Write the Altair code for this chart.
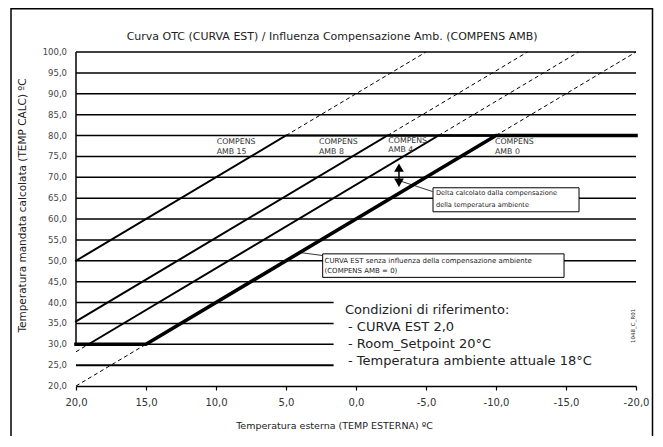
import altair as alt
import pandas as pd

# ---------------- data ----------------
title_text = "Curva OTC (CURVA EST) / Influenza Compensazione Amb. (COMPENS AMB)"
title_x = 1.71
title_y = 103.7

# y tick labels (flow temperature, °C)
y_ticks = [20, 25, 30, 35, 40, 45, 50, 55, 60, 65, 70, 75, 80, 85, 90, 95, 100]
x_ticks = [20, 15, 10, 5, 0, -5, -10, -15, -20]

# horizontal reference lines (flow temperature, °C)
grid_full = [45, 50, 55, 60, 65, 70, 75, 80, 85, 90, 95, 100]
grid_short = [25, 30, 35, 40]
grid_short_end = 1.6          # outdoor temp where the short lines stop
grid_short_width = [2.0, 1.5, 1.5, 1.5]

# solid curves (outdoor temp -> flow temp)
curve_names = ["AMB 15", "AMB 8", "AMB 4", "AMB 0"]
curve_x = [[20, 5, -20], [20, -2.25, -20], [19.1, -5.9, -20], [20, 15, -10, -20]]
curve_y = [[50, 80, 80], [35.5, 80, 80], [30, 80, 80], [30, 30, 80, 80]]
curve_w = [2.0, 2.0, 2.0, 3.6]

# dashed continuations
dash_names = ["AMB 0 low", "AMB 4 low", "AMB 15 high", "AMB 8 high", "AMB 4 high", "AMB 0 high"]
dash_x = [[20, 15], [20, 19.1], [5, -5], [-2.25, -12.25], [-5.9, -15.9], [-10, -20]]
dash_y = [[20, 30], [28.2, 30], [80, 100], [80, 100], [80, 100], [80, 100]]

# curve labels
lab_text = ["COMPENS", "AMB 15", "COMPENS", "AMB 8", "COMPENS", "AMB 4", "COMPENS", "AMB 0"]
lab_x = [9.95, 9.95, 2.64, 2.64, -2.31, -2.31, -9.93, -9.93]
lab_y = [78.44, 76.12, 78.44, 76.12, 78.7, 76.47, 78.44, 76.12]

# callout boxes
box_x = [-5.5, 2.38]
box_x2 = [-15.93, -14.86]
box_y = [67.48, 51.65]
box_y2 = [61.73, 46.02]
box_text = ["Delta calcolato dalla compensazione", "della temperatura ambiente",
            "CURVA EST senza influenza della compensazione ambiente", "(COMPENS AMB = 0)"]
box_text_x = [-5.71, -5.71, 2.25, 2.25]
box_text_y = [66.21, 63.41, 49.98, 47.58]
box_text_size = [6.6, 6.6, 7.0, 7.0]

# leader lines
lead_x = [-3.26, 4.0]
lead_x2 = [-5.46, 2.38]
lead_y = [68.99, 51.97]
lead_y2 = [66.59, 51.25]

# double arrow (delta)
arrow_x = -3.07
arrow_y_top = 72.3
arrow_y_bot = 68.7

# reference conditions
cond_text = ["Condizioni di riferimento:", "- CURVA EST 2,0", "- Room_Setpoint 20°C",
             "- Temperatura ambiente attuale 18°C"]
cond_x = [0.79, 0.57, 0.57, 0.57]
cond_y = [38.3, 34.15, 30.07, 25.99]

code_text = "1048_C_R01"
code_x = -19.79
code_y = 34.4

# ---------------- build tables ----------------
def fmt_num(v):
    s = f"{abs(v):.1f}".replace(".", ",")
    return ("-" if v < 0 else "") + s

grid_df = pd.DataFrame(
    {"y": grid_full + grid_short,
     "x": [20] * (len(grid_full) + len(grid_short)),
     "x2": [-20] * len(grid_full) + [grid_short_end] * len(grid_short),
     "w": [1.5] * len(grid_full) + grid_short_width})

rows = []
for n, xs, ys, w in zip(curve_names, curve_x, curve_y, curve_w):
    for i, (a, b) in enumerate(zip(xs, ys)):
        rows.append({"s": n, "x": a, "y": b, "o": i, "w": w})
curve_df = pd.DataFrame(rows)

rows = []
for n, xs, ys in zip(dash_names, dash_x, dash_y):
    for i, (a, b) in enumerate(zip(xs, ys)):
        rows.append({"s": n, "x": a, "y": b, "o": i})
dash_df = pd.DataFrame(rows)

ylab_df = pd.DataFrame({"x": [20] * len(y_ticks), "y": y_ticks, "t": [fmt_num(v) for v in y_ticks]})
lab_df = pd.DataFrame({"t": lab_text, "x": lab_x, "y": lab_y})
box_df = pd.DataFrame({"x": box_x, "x2": box_x2, "y": box_y, "y2": box_y2})
boxt_df = pd.DataFrame({"t": box_text, "x": box_text_x, "y": box_text_y, "sz": box_text_size})
lead_df = pd.DataFrame({"x": lead_x, "x2": lead_x2, "y": lead_y, "y2": lead_y2})
arr_df = pd.DataFrame({"x": [arrow_x], "y": [arrow_y_top], "y2": [arrow_y_bot]})
cond_df = pd.DataFrame({"t": cond_text, "x": cond_x, "y": cond_y})
code_df = pd.DataFrame({"t": [code_text], "x": [code_x], "y": [code_y]})
title_df = pd.DataFrame({"t": [title_text], "x": [title_x], "y": [title_y]})
yax_df = pd.DataFrame({"x": [20], "y": [30], "y2": [100]})

FONT = "DejaVu Sans"
fmt = "(datum.value < 0 ? '-' : '') + replace(format(abs(datum.value), '.1f'), '.', ',')"

xscale = alt.Scale(domain=[-20, 20], reverse=True, nice=False, zero=False)
yscale = alt.Scale(domain=[20, 100], nice=False, zero=False)

xaxis = alt.Axis(values=x_ticks, labelExpr=fmt,
                 title="Temperatura esterna (TEMP ESTERNA) ºC",
                 grid=False, domain=True, domainColor="black", domainWidth=1.5,
                 ticks=True, tickColor="black", tickWidth=1.2, tickSize=4,
                 labelFont=FONT, labelFontSize=10, labelColor="#333", labelPadding=7,
                 labelFlush=False, labelOverlap=False,
                 titleFont=FONT, titleFontSize=9.5, titleFontWeight="normal", titleColor="#222",
                 titleX=258, titleY=39, titleBaseline="middle", titleAlign="center")
yaxis = alt.Axis(values=y_ticks, labels=False,
                 title="Temperatura mandata calcolata (TEMP CALC) ºC",
                 grid=False, domain=False, ticks=False,
                 titleFont=FONT, titleFontSize=10.5, titleFontWeight="normal", titleColor="#222",
                 titleX=-54, titleY=153, titleAngle=270, titleBaseline="middle", titleAlign="center")

grid = alt.Chart(grid_df).mark_rule(color="black").encode(
    x=alt.X("x:Q", scale=xscale, axis=xaxis),
    x2="x2:Q",
    y=alt.Y("y:Q", scale=yscale, axis=yaxis),
    strokeWidth=alt.StrokeWidth("w:Q", scale=None),
)

ylabels = alt.Chart(ylab_df).mark_text(font=FONT, fontSize=8.5, color="#444", align="right",
                                       baseline="middle", dx=-9).encode(
    x="x:Q", y="y:Q", text="t:N")

yline = alt.Chart(yax_df).mark_rule(color="black", strokeWidth=1.5).encode(
    x="x:Q", y="y:Q", y2="y2:Q")

curves = alt.Chart(curve_df).mark_line(color="black", strokeCap="square").encode(
    x="x:Q", y="y:Q", detail="s:N", order="o:Q",
    strokeWidth=alt.StrokeWidth("w:Q", scale=None))

dashes = alt.Chart(dash_df).mark_line(color="black", strokeWidth=1, strokeDash=[4, 3]).encode(
    x="x:Q", y="y:Q", detail="s:N", order="o:Q")

labels = alt.Chart(lab_df).mark_text(font=FONT, fontSize=7.8, color="#333", align="left",
                                     baseline="middle").encode(x="x:Q", y="y:Q", text="t:N")

leads = alt.Chart(lead_df).mark_rule(color="black", strokeWidth=0.8).encode(
    x="x:Q", x2="x2:Q", y="y:Q", y2="y2:Q")

boxes = alt.Chart(box_df).mark_rect(fill="white", stroke="black", strokeWidth=1).encode(
    x="x:Q", x2="x2:Q", y="y:Q", y2="y2:Q")

boxt = alt.Chart(boxt_df).mark_text(font=FONT, color="#222", align="left", baseline="middle").encode(
    x="x:Q", y="y:Q", text="t:N", size=alt.Size("sz:Q", scale=None))

arr_shaft = alt.Chart(arr_df).mark_rule(color="black", strokeWidth=1.5).encode(
    x="x:Q", y="y:Q", y2="y2:Q")
arr_up = alt.Chart(arr_df).mark_point(shape="triangle-up", filled=True, size=95, color="black",
                                      opacity=1).encode(x="x:Q", y="y:Q")
arr_dn = alt.Chart(arr_df).mark_point(shape="triangle-down", filled=True, size=95, color="black",
                                      opacity=1).encode(x="x:Q", y="y2:Q")

cond = alt.Chart(cond_df).mark_text(font=FONT, fontSize=13, color="#222", align="left",
                                    baseline="middle").encode(x="x:Q", y="y:Q", text="t:N")

code = alt.Chart(code_df).mark_text(font=FONT, fontSize=5.5, color="#333", angle=270,
                                    align="center", baseline="middle").encode(
    x="x:Q", y="y:Q", text="t:N")

title = alt.Chart(title_df).mark_text(font=FONT, fontSize=11, color="#222", align="center",
                                      baseline="middle").encode(x="x:Q", y="y:Q", text="t:N")

frame = alt.Chart(pd.DataFrame({"a": [0]})).mark_rect(
    fill="white", fillOpacity=0, stroke="black", strokeWidth=1.5).encode(
    x=alt.value(-65), x2=alt.value(576.5), y=alt.value(-43.2), y2=alt.value(420))

chart = alt.layer(
    grid, ylabels, yline, curves, dashes, labels, leads, boxes, boxt,
    arr_shaft, arr_up, arr_dn, cond, code, title, frame
).properties(
    width=560, height=334,
    autosize=alt.AutoSizeParams(type="none"),
    padding={"left": 68, "top": 44, "right": 18, "bottom": 50},
    background="white",
).configure_view(stroke=None)

chart.save("out.html", embed_options={"renderer": "svg", "actions": False})
